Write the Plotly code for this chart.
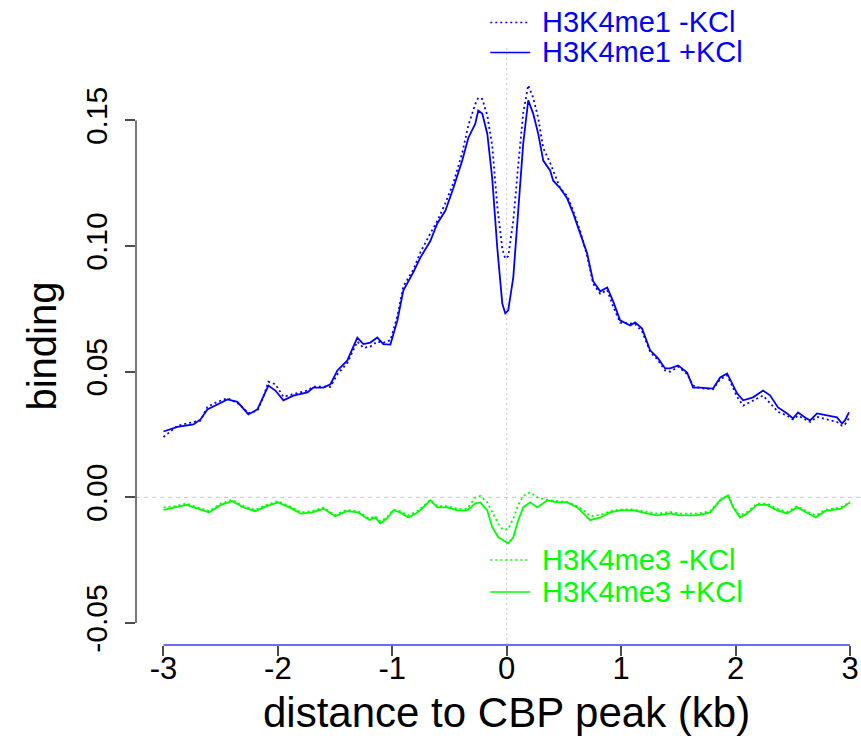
import plotly.graph_objects as go

# ---- H3K4me1 profiles around CBP peaks (distance in kb, binding) ----
x_me1 = [-3.000, -2.878, -2.738, -2.677, -2.616, -2.528, -2.441, -2.354, -2.301, -2.258,
         -2.179, -2.127, -2.083, -2.022, -1.952, -1.865, -1.742, -1.690, -1.603, -1.541,
         -1.480, -1.393, -1.306, -1.253, -1.192, -1.131, -1.079, -1.017, -0.956, -0.904,
         -0.817, -0.755, -0.668, -0.607, -0.537, -0.467, -0.389, -0.336, -0.275, -0.249,
         -0.214, -0.170, -0.127, -0.083, -0.039, -0.013, 0.013, 0.057, 0.100, 0.144,
         0.188, 0.231, 0.275, 0.319, 0.380, 0.406, 0.467, 0.528, 0.581, 0.642,
         0.703, 0.755, 0.817, 0.878, 0.930, 0.991, 1.079, 1.122, 1.183, 1.253,
         1.323, 1.384, 1.428, 1.498, 1.576, 1.629, 1.690, 1.803, 1.865, 1.926,
         1.969, 2.013, 2.066, 2.153, 2.240, 2.301, 2.371, 2.450, 2.502, 2.546,
         2.607, 2.651, 2.712, 2.799, 2.886, 2.930, 2.956, 2.991]

me1_plus = [0.0262, 0.0280, 0.0290, 0.0310, 0.0350, 0.0370, 0.0390, 0.0380, 0.0350, 0.0330,
            0.0350, 0.0405, 0.0445, 0.0425, 0.0386, 0.0405, 0.0418, 0.0437, 0.0437, 0.0450,
            0.0505, 0.0545, 0.0636, 0.0610, 0.0616, 0.0636, 0.0610, 0.0608, 0.0704, 0.0823,
            0.0895, 0.0954, 0.1020, 0.1090, 0.1140, 0.1230, 0.1340, 0.1430, 0.1487, 0.1539,
            0.1527, 0.1447, 0.1270, 0.0994, 0.0771, 0.0732, 0.0744, 0.0875, 0.1140, 0.1408,
            0.1580, 0.1527, 0.1447, 0.1340, 0.1300, 0.1260, 0.1230, 0.1190, 0.1130, 0.1050,
            0.0970, 0.0860, 0.0820, 0.0835, 0.0780, 0.0704, 0.0684, 0.0696, 0.0672, 0.0585,
            0.0553, 0.0513, 0.0513, 0.0525, 0.0497, 0.0437, 0.0437, 0.0433, 0.0477, 0.0493,
            0.0453, 0.0414, 0.0386, 0.0398, 0.0425, 0.0406, 0.0358, 0.0334, 0.0314, 0.0338,
            0.0318, 0.0306, 0.0334, 0.0326, 0.0318, 0.0294, 0.0306, 0.0338]

me1_minus = [0.0240, 0.0285, 0.0300, 0.0305, 0.0360, 0.0380, 0.0395, 0.0375, 0.0355, 0.0335,
             0.0345, 0.0400, 0.0460, 0.0450, 0.0400, 0.0410, 0.0425, 0.0440, 0.0440, 0.0440,
             0.0490, 0.0535, 0.0620, 0.0595, 0.0600, 0.0620, 0.0615, 0.0625, 0.0720, 0.0840,
             0.0905, 0.0975, 0.1050, 0.1100, 0.1170, 0.1250, 0.1370, 0.1480, 0.1565, 0.1590,
             0.1585, 0.1520, 0.1400, 0.1160, 0.0990, 0.0950, 0.0960, 0.1100, 0.1320, 0.1530,
             0.1640, 0.1590, 0.1510, 0.1390, 0.1330, 0.1300, 0.1230, 0.1200, 0.1140, 0.1060,
             0.0960, 0.0850, 0.0810, 0.0825, 0.0760, 0.0695, 0.0690, 0.0690, 0.0660, 0.0580,
             0.0545, 0.0505, 0.0500, 0.0520, 0.0490, 0.0445, 0.0435, 0.0430, 0.0470, 0.0485,
             0.0445, 0.0400, 0.0365, 0.0385, 0.0405, 0.0375, 0.0340, 0.0325, 0.0310, 0.0325,
             0.0310, 0.0300, 0.0320, 0.0310, 0.0300, 0.0285, 0.0290, 0.0315]

# ---- H3K4me3 profiles ----
x_me3 = [-3.000, -2.900, -2.800, -2.700, -2.600, -2.500, -2.400, -2.300, -2.200, -2.100,
         -2.000, -1.900, -1.800, -1.700, -1.600, -1.500, -1.400, -1.300, -1.200, -1.150,
         -1.105, -1.044, -0.991, -0.930, -0.860, -0.781, -0.729, -0.668, -0.607, -0.520,
         -0.432, -0.345, -0.275, -0.231, -0.170, -0.127, -0.074, -0.031, 0.013, 0.057,
         0.100, 0.144, 0.205, 0.266, 0.354, 0.441, 0.528, 0.616, 0.668, 0.729,
         0.817, 0.904, 0.991, 1.105, 1.227, 1.314, 1.428, 1.515, 1.664, 1.777,
         1.865, 1.934, 1.978, 2.039, 2.100, 2.188, 2.275, 2.362, 2.450, 2.537,
         2.620, 2.700, 2.780, 2.850, 2.920, 3.000]

me3_plus = [-0.0050, -0.0040, -0.0030, -0.0045, -0.0060, -0.0030, -0.0015, -0.0040, -0.0055, -0.0035,
            -0.0020, -0.0040, -0.0065, -0.0060, -0.0045, -0.0075, -0.0055, -0.0060, -0.0090, -0.0080,
            -0.0104, -0.0083, -0.0052, -0.0060, -0.0080, -0.0060, -0.0040, -0.0012, -0.0040, -0.0040,
            -0.0052, -0.0052, -0.0024, -0.0020, -0.0052, -0.0119, -0.0159, -0.0171, -0.0183, -0.0159,
            -0.0091, -0.0040, -0.0020, -0.0040, -0.0012, -0.0020, -0.0020, -0.0040, -0.0064, -0.0091,
            -0.0080, -0.0060, -0.0052, -0.0052, -0.0064, -0.0072, -0.0064, -0.0072, -0.0072, -0.0060,
            -0.0012, 0.0008, -0.0040, -0.0080, -0.0064, -0.0030, -0.0030, -0.0052, -0.0064, -0.0040,
            -0.0060, -0.0080, -0.0055, -0.0050, -0.0045, -0.0020]

me3_minus = [-0.0040, -0.0035, -0.0025, -0.0040, -0.0055, -0.0025, -0.0010, -0.0035, -0.0050, -0.0030,
             -0.0015, -0.0035, -0.0060, -0.0055, -0.0040, -0.0070, -0.0050, -0.0055, -0.0085, -0.0075,
             -0.0095, -0.0078, -0.0048, -0.0055, -0.0072, -0.0055, -0.0035, -0.0010, -0.0035, -0.0035,
             -0.0045, -0.0045, 0.0000, 0.0005, -0.0020, -0.0060, -0.0105, -0.0130, -0.0125, -0.0085,
             -0.0030, 0.0005, 0.0020, 0.0000, -0.0010, -0.0015, -0.0018, -0.0035, -0.0050, -0.0075,
             -0.0070, -0.0055, -0.0048, -0.0048, -0.0058, -0.0065, -0.0058, -0.0065, -0.0065, -0.0055,
             -0.0010, 0.0008, -0.0035, -0.0072, -0.0058, -0.0025, -0.0025, -0.0045, -0.0058, -0.0035,
             -0.0055, -0.0072, -0.0050, -0.0045, -0.0040, -0.0018]

x_ticks = [-3, -2, -1, 0, 1, 2, 3]
x_tick_text = ["-3", "-2", "-1", "0", "1", "2", "3"]
y_ticks = [-0.05, 0.00, 0.05, 0.10, 0.15]
y_tick_text = ["-0.05", "0.00", "0.05", "0.10", "0.15"]

BLUE = "#0000FF"
GREEN = "#00FF00"
FONT = "Liberation Sans, Arial, Helvetica, sans-serif"
AXIS_GREY = "#4d4d4d"

fig = go.Figure()

series = [
    (x_me1, me1_minus, BLUE, "2px,3px", "H3K4me1 -KCl"),
    (x_me1, me1_plus, BLUE, "solid", "H3K4me1 +KCl"),
    (x_me3, me3_minus, GREEN, "2px,3px", "H3K4me3 -KCl"),
    (x_me3, me3_plus, GREEN, "solid", "H3K4me3 +KCl"),
]
for xs, ys, col, dash, name in series:
    fig.add_trace(go.Scatter(
        x=xs, y=ys, mode="lines", name=name, showlegend=False,
        line=dict(color=col, width=1.8, dash=dash),
    ))

shapes = [
    # reference lines through zero
    dict(type="line", xref="paper", yref="y", x0=0, x1=1, y0=0, y1=0,
         line=dict(color="#c8c8c8", width=1, dash="4px,4px"), layer="below"),
    dict(type="line", xref="x", yref="paper", x0=0, x1=0, y0=0, y1=1,
         line=dict(color="#c8c8c8", width=1, dash="2px,3px"), layer="below"),
    # y axis spine between the outer ticks
    dict(type="line", xref="paper", yref="y", x0=0, x1=0, y0=-0.05, y1=0.15,
         line=dict(color=AXIS_GREY, width=1.5)),
    # x axis spine
    dict(type="line", xref="x", yref="paper", x0=-3, x1=3, y0=0, y1=0,
         line=dict(color="#6a6aff", width=2)),
]

annotations = [
    dict(text="binding", xref="paper", yref="paper", x=-0.131, y=0.5,
         textangle=-90, showarrow=False, font=dict(family=FONT, size=40, color="black"),
         xanchor="center", yanchor="middle"),
    dict(text="distance to CBP peak (kb)", xref="x", yref="paper", x=0.0, y=-0.113,
         showarrow=False, font=dict(family=FONT, size=42, color="black"),
         xanchor="center", yanchor="middle"),
]

# legend entries: line sample + label
legend_rows = [
    ("H3K4me1 -KCl", BLUE, "2px,3px", 1.0428),
    ("H3K4me1 +KCl", BLUE, "solid", 0.9926),
    ("H3K4me3 -KCl", GREEN, "2px,3px", 0.1423),
    ("H3K4me3 +KCl", GREEN, "solid", 0.0887),
]
for label, col, dash, ypos in legend_rows:
    shapes.append(dict(type="line", xref="x", yref="paper", x0=-0.144, x1=0.205,
                       y0=ypos, y1=ypos, line=dict(color=col, width=1.5, dash=dash)))
    annotations.append(dict(text=label, xref="x", yref="paper", x=0.29, y=ypos,
                            xanchor="left", yanchor="middle", showarrow=False,
                            font=dict(family=FONT, size=29, color=col)))

fig.update_layout(
    width=861, height=742,
    margin=dict(l=135.5, r=0, t=47.6, b=97),
    paper_bgcolor="white", plot_bgcolor="white",
    font=dict(family=FONT, color="black"),
    shapes=shapes, annotations=annotations,
    xaxis=dict(range=[-3.2402, 3.0961], showgrid=False, zeroline=False, showline=False,
               tickmode="array", tickvals=x_ticks, ticktext=x_tick_text,
               ticks="outside", ticklen=10, tickwidth=1.5, tickcolor=AXIS_GREY,
               ticklabelstandoff=-14,
               tickfont=dict(family=FONT, size=31, color="black")),
    yaxis=dict(range=[-0.05875, 0.1788], showgrid=False, zeroline=False, showline=False,
               tickmode="array", tickvals=y_ticks, ticktext=y_tick_text,
               ticks="outside", ticklen=10, tickwidth=1.5, tickcolor=AXIS_GREY,
               ticklabelstandoff=6,
               tickangle=-90, tickfont=dict(family=FONT, size=30, color="black")),
)

fig.write_html("out.html")
